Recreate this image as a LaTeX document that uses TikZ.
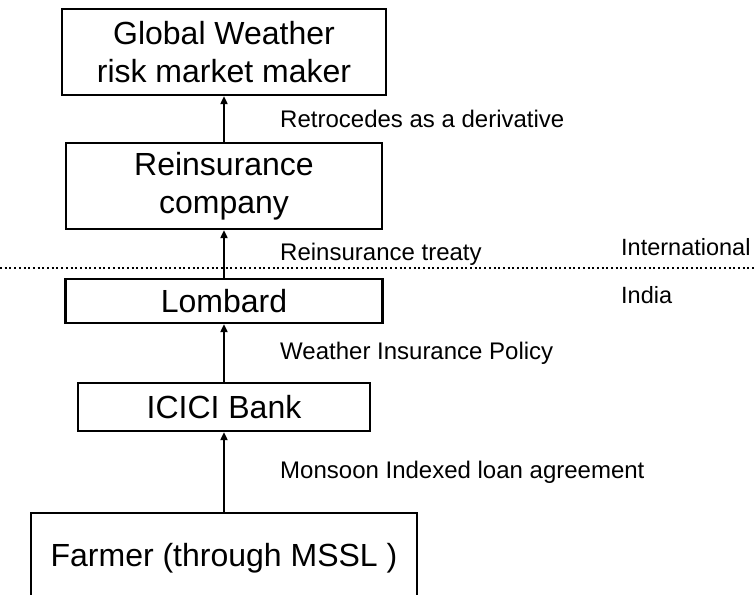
\documentclass[tikz,border=0pt]{standalone}
\usepackage{fontspec}
\setmainfont{Liberation Sans}
\usetikzlibrary{arrows.meta, positioning}

\begin{document}
\begin{tikzpicture}[x=1pt, y=-1pt, >={Triangle[length=8pt,width=7pt]},
    party/.style={draw, line width=2.2pt, inner sep=0pt, align=center,
        font=\fontsize{32}{38}\selectfont},
    deal/.style={right, xshift=52pt, font=\fontsize{24}{28}\selectfont},
    region/.style={right, inner sep=0pt, font=\fontsize{23.5}{28}\selectfont},
    border/.style={line width=2.8pt, dash pattern=on 2pt off 2.7pt}]

    \useasboundingbox (0,0) rectangle (756,595);

    \node [party, minimum width=324pt, minimum height=86pt] (global) at (224, 52) {Global Weather\\risk market maker};
    \node [party, minimum width=316pt, minimum height=86pt] (reins) at (224, 186) {Reinsurance\\company};
    \node [party, minimum width=317pt, minimum height=44pt] (lombard) at (224, 301) {Lombard};
    \node [party, minimum width=292pt, minimum height=48pt] (icici) at (224, 407) {ICICI Bank};
    \node [party, minimum width=386pt, minimum height=90pt] (farmer) at (224, 558) {Farmer (through MSSL )};

    \draw [border] (0, 268) -- (756, 268);
    \node [region] (intl) at (621, 247) {International};
    \node [region] (india) at (621, 295) {India};

 \path[->, line width=1.8pt]
      (reins) edge node [deal] {Retrocedes as a derivative} (global)
      (lombard) edge node [deal] {Reinsurance treaty} (reins)
      (icici) edge node [deal] {Weather Insurance Policy} (lombard)
      (farmer) edge node [deal] {Monsoon Indexed loan agreement} (icici);
\end{tikzpicture}
\end{document}
